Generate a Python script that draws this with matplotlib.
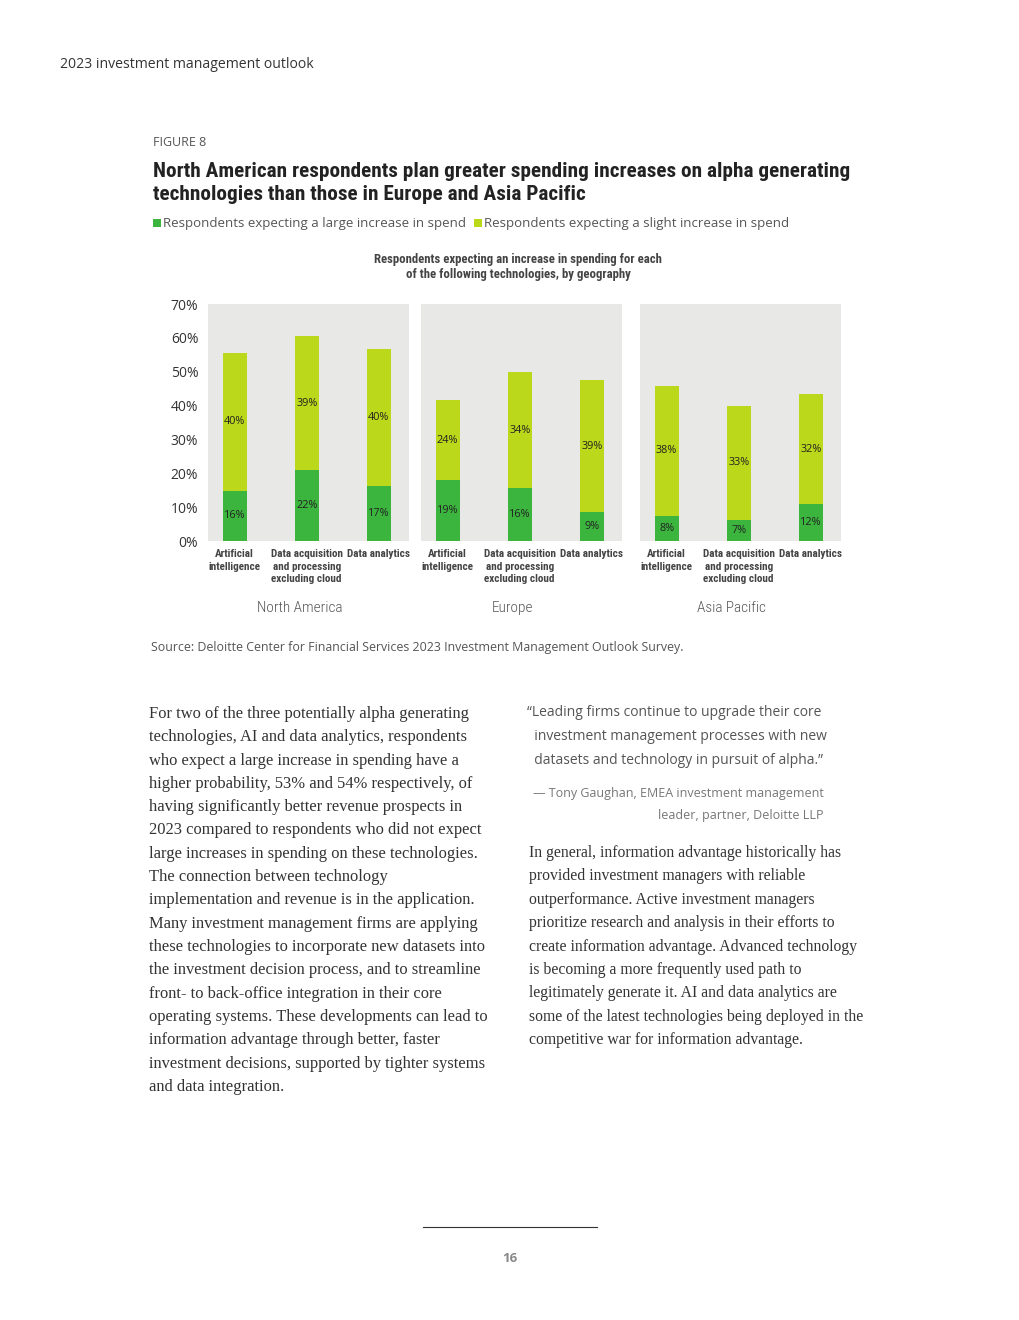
import matplotlib
matplotlib.use("Agg")
import matplotlib.pyplot as plt

# data (bar heights as drawn, labels as printed)
regions = ["North America", "Europe", "Asia Pacific"]
techs = ["Artificial\nintelligence", "Data acquisition\nand processing\nexcluding cloud", "Data analytics"]
large = [[14.8, 21.0, 16.2], [18.0, 15.6, 8.6], [7.4, 6.2, 10.9]]
total = [[55.5, 60.5, 56.7], [41.6, 49.9, 47.5], [45.8, 39.9, 43.4]]
large_lbl = [["16%", "22%", "17%"], ["19%", "16%", "9%"], ["8%", "7%", "12%"]]
slight_lbl = [["40%", "39%", "40%"], ["24%", "34%", "39%"], ["38%", "33%", "32%"]]
yticks = [0, 10, 20, 30, 40, 50, 60, 70]

DARK = "#3cb53e"
LIGHT = "#bbd81a"
PANEL = "#e8e8e6"
COND = ["Roboto Condensed", "DejaVu Sans"]
SANS = ["Open Sans", "DejaVu Sans"]
SERIF = ["Liberation Serif", "DejaVu Serif"]

W, H = 1020, 1320
fig = plt.figure(figsize=(W / 100, H / 100), dpi=100)
fig.patch.set_facecolor("white")


def fx(x):
    return x / W


def fy(y):
    return 1 - y / H


# page header
fig.text(fx(60), fy(65), "2023 investment management outlook", family=SANS,
         fontsize=10.1, color="#333333", va="center")
fig.text(fx(153), fy(143), "FIGURE 8", family=SANS, fontsize=9,
         color="#555555", va="center")
fig.text(fx(153), fy(183), "North American respondents plan greater spending increases on alpha generating\n"
         "technologies than those in Europe and Asia Pacific", family=COND,
         fontsize=15.3, weight="bold", color="#222222",
         va="center", linespacing=1.3)

panel_left = [208, 421, 640]
for i, region in enumerate(regions):
    ax = fig.add_axes([fx(panel_left[i]), fy(541), fx(201), 237 / H])
    ax.set_facecolor(PANEL)
    x = list(range(len(techs)))
    slight = [t - l for t, l in zip(total[i], large[i])]
    b1 = ax.bar(x, large[i], width=0.333, color=DARK, zorder=2,
                label="Respondents expecting a large increase in spend")
    b2 = ax.bar(x, slight, bottom=large[i], width=0.333, color=LIGHT, zorder=2,
                label="Respondents expecting a slight increase in spend")
    ax.bar_label(b1, labels=large_lbl[i], label_type="center", fontsize=7.8,
                 color="#222222", family=SANS)
    ax.bar_label(b2, labels=slight_lbl[i], label_type="center", fontsize=7.8,
                 color="#222222", family=SANS)
    ax.set_xlim(-0.37, 2.42)
    ax.set_ylim(0, 70)
    ax.set_xticks(x)
    ax.set_xticklabels(techs, family=COND, fontsize=8.0, weight="bold",
                       color="#444444", linespacing=1.3, va="top")
    ax.tick_params(axis="x", length=0, pad=6)
    ax.set_yticks(yticks)
    if i == 0:
        ax.set_yticklabels([f"{v}%" for v in yticks], family=SANS,
                           fontsize=10, color="#333333")
        ax.tick_params(axis="y", length=0, pad=7)
        handles = [b1, b2]
    else:
        ax.set_yticks([])
    for s in ax.spines.values():
        s.set_visible(False)
    ax.text(0.9, -19.9, region, family=COND, fontsize=11,
            weight="light", color="#555555", ha="center", va="center")

fig.text(fx(518), fy(267), "Respondents expecting an increase in spending for each\n"
         "of the following technologies, by geography", family=COND,
         fontsize=9.2, weight="bold", color="#444444",
         ha="center", va="center", linespacing=1.25)

fig.legend(handles, [h.get_label() for h in handles], loc="center left",
           bbox_to_anchor=(fx(141), fy(224)), ncol=2, frameon=False,
           handlelength=0.6, handleheight=0.6, handletextpad=0.15,
           columnspacing=0.6, prop={"family": SANS, "size": 9.5},
           labelcolor="#555555")

fig.text(fx(151), fy(647), "Source: Deloitte Center for Financial Services 2023 Investment Management Outlook Survey.",
         family=SANS, fontsize=8.9, color="#555555", va="center")

# body text
left_lines = [
    "For two of the three potentially alpha generating",
    "technologies, AI and data analytics, respondents",
    "who expect a large increase in spending have a",
    "higher probability, 53% and 54% respectively, of",
    "having significantly better revenue prospects in",
    "2023 compared to respondents who did not expect",
    "large increases in spending on these technologies.",
    "The connection between technology",
    "implementation and revenue is in the application.",
    "Many investment management firms are applying",
    "these technologies to incorporate new datasets into",
    "the investment decision process, and to streamline",
    "front- to back-office integration in their core",
    "operating systems. These developments can lead to",
    "information advantage through better, faster",
    "investment decisions, supported by tighter systems",
    "and data integration.",
]
for k, line in enumerate(left_lines):
    fig.text(fx(149), fy(714 + 23.3 * k), line, family=SERIF, fontsize=11.9,
             color="#333333", va="center")

quote_lines = [
    "\u201cLeading firms continue to upgrade their core",
    "  investment management processes with new",
    "  datasets and technology in pursuit of alpha.\u201d",
]
for k, line in enumerate(quote_lines):
    fig.text(fx(527), fy(713 + 23.5 * k), line, family=SANS, fontsize=10.0,
             color="#555555", va="center")
fig.text(fx(824), fy(794), "\u2014 Tony Gaughan, EMEA investment management",
         family=SANS, fontsize=9, color="#777777", ha="right", va="center")
fig.text(fx(824), fy(816), "leader, partner, Deloitte LLP",
         family=SANS, fontsize=9, color="#777777", ha="right", va="center")

right_lines = [
    "In general, information advantage historically has",
    "provided investment managers with reliable",
    "outperformance. Active investment managers",
    "prioritize research and analysis in their efforts to",
    "create information advantage. Advanced technology",
    "is becoming a more frequently used path to",
    "legitimately generate it. AI and data analytics are",
    "some of the latest technologies being deployed in the",
    "competitive war for information advantage.",
]
for k, line in enumerate(right_lines):
    fig.text(fx(529), fy(853 + 23.4 * k), line, family=SERIF, fontsize=11.3,
             color="#333333", va="center")

# footer
fig.add_artist(plt.Line2D([fx(423), fx(597)], [fy(1227), fy(1227)],
                          color="#333333", lw=0.8))
fig.text(fx(510), fy(1258), "16", family=SANS, fontsize=9.5, weight="bold",
         color="#888888", ha="center", va="center")

fig.savefig("out.png", dpi=100)
